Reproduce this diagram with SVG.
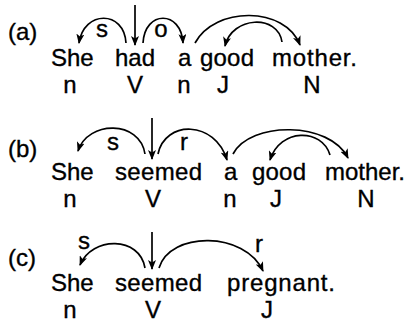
<svg xmlns="http://www.w3.org/2000/svg" width="409" height="322" viewBox="0 0 409 322">
<defs>
<marker id="ah" viewBox="0 0 10 8" refX="9" refY="4" markerWidth="10" markerHeight="8" markerUnits="userSpaceOnUse" orient="auto">
<path d="M0,0 L10,4 L0,8 L2.5,4 Z" fill="#000"/>
</marker>
<style>
text{font-family:"Liberation Sans",Arial,Helvetica,sans-serif;font-size:24px;fill:#000;stroke:#000;stroke-width:0.35}
.t{text-anchor:middle}
.arc{fill:none;stroke:#000;stroke-width:1.7;marker-end:url(#ah)}
</style>
</defs>
<rect width="409" height="322" fill="#fff"/>
<g id="labels">
<text x="8" y="40">(a)</text>
<text x="8" y="157">(b)</text>
<text x="8" y="266">(c)</text>
</g>
<g id="row-a">
<g id="a-she"><text x="51" y="66">She</text><text class="t" x="70" y="93">n</text></g>
<g id="a-had"><text x="115" y="66">had</text><text class="t" x="135" y="93">V</text></g>
<g id="a-a"><text x="178" y="66">a</text><text class="t" x="184" y="93">n</text></g>
<g id="a-good"><text x="200" y="66" textLength="54">good</text><text class="t" x="223" y="93">J</text></g>
<g id="a-mother"><text x="272" y="66" textLength="85">mother.</text><text class="t" x="312" y="93">N</text></g>
</g>
<g id="row-b">
<g id="b-she"><text x="51" y="180">She</text><text class="t" x="70" y="207">n</text></g>
<g id="b-seemed"><text x="115" y="180" textLength="87">seemed</text><text class="t" x="153" y="207">V</text></g>
<g id="b-a"><text x="224" y="180">a</text><text class="t" x="230" y="207">n</text></g>
<g id="b-good"><text x="252" y="180" textLength="54">good</text><text class="t" x="276" y="207">J</text></g>
<g id="b-mother"><text x="325" y="180" textLength="80">mother.</text><text class="t" x="366" y="207">N</text></g>
</g>
<g id="row-c">
<g id="c-she"><text x="51" y="291">She</text><text class="t" x="70" y="318">n</text></g>
<g id="c-seemed"><text x="115" y="291" textLength="87">seemed</text><text class="t" x="153" y="318">V</text></g>
<g id="c-pregnant"><text x="227" y="291" textLength="108">pregnant.</text><text class="t" x="267" y="318">J</text></g>
</g>
<g id="connectors">
<path class="arc" d="M135,5 L135,45"/>
<path class="arc" d="M126,43 C124,10 84,10 79,43"/>
<path class="arc" d="M143,43 C145,10 181,10 183,43"/>
<path class="arc" d="M195,43 C215,6 285,6 300,45"/>
<path class="arc" d="M282,42 C278,14 232,16 225,46"/>
<path class="arc" d="M152,118 L152,159"/>
<path class="arc" d="M145,154 C140,120 88,120 78,151"/>
<path class="arc" d="M158,154 C165,120 215,120 227,160"/>
<path class="arc" d="M233,154 C250,121 330,121 348,158"/>
<path class="arc" d="M330,155 C322,128 280,128 270,160"/>
<path class="arc" d="M152,232 L152,269"/>
<path class="arc" d="M145,268 C140,236 92,236 80,265"/>
<path class="arc" d="M159,268 C170,231 245,231 263,271"/>
</g>
<g id="arc-labels">
<text class="t" x="102" y="37">s</text>
<text class="t" x="161" y="37">o</text>
<text class="t" x="113" y="150">s</text>
<text class="t" x="184" y="150">r</text>
<text class="t" x="84" y="249">s</text>
<text class="t" x="259" y="252">r</text>
</g>
</svg>
